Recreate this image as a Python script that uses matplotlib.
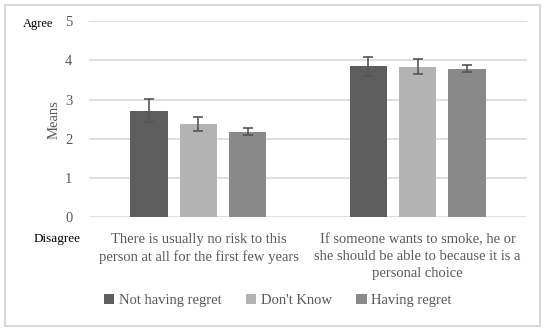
import numpy as np
import matplotlib.pyplot as plt
from matplotlib.patches import Rectangle

# 数据
categories = ["There is usually no risk to this\nperson at all for the first few years",
              "If someone wants to smoke, he or\nshe should be able to because it is a\npersonal choice"]
series = ["Not having regret", "Don't Know", "Having regret"]
not_regret = [2.72, 3.85]
dont_know = [2.38, 3.83]
having_regret = [2.18, 3.79]
err_not_regret = [0.30, 0.24]
err_dont_know = [0.17, 0.19]
err_having_regret = [0.09, 0.10]
yticks = [0, 1, 2, 3, 4, 5]

colors = ["#5e5e5e", "#b3b3b3", "#898989"]
plt.rcParams['font.family'] = ['Liberation Serif', 'DejaVu Serif']

fig = plt.figure(figsize=(5.5, 3.31), dpi=100)
ax = fig.add_axes([0.1618, 0.343, 0.7964, 0.5936])

x = np.arange(len(categories))
width = 0.173
step = 0.224
values = [not_regret, dont_know, having_regret]
errors = [err_not_regret, err_dont_know, err_having_regret]
for i in range(3):
    ax.bar(x + (i - 1) * step, values[i], width, color=colors[i], label=series[i],
           yerr=errors[i], error_kw=dict(ecolor="#555555", elinewidth=1.2, capsize=3.5, capthick=1.2),
           zorder=3)

ax.set_xlim(-0.5, 1.5)
ax.set_ylim(0, 5)
ax.set_yticks(yticks)
ax.set_yticklabels([str(t) for t in yticks], color="#595959", fontsize=10.5)
ax.set_xticks(x)
ax.set_xticklabels(categories, color="#595959", fontsize=10.5, linespacing=1.4)
ax.tick_params(axis="both", length=0)
ax.tick_params(axis="x", pad=11)
ax.tick_params(axis="y", pad=12)
ax.grid(axis="y", color="#d9d9d9", linewidth=1.2, zorder=0)
for s in ax.spines.values():
    s.set_visible(False)
ax.set_ylabel("Means", color="#595959", fontsize=10.5, labelpad=3)

fig.text(0.069, 0.927, "Agree", fontsize=9, ha="center", va="center", color="black")
fig.text(0.104, 0.278, "Disagree", fontsize=9.5, ha="center", va="center", color="black")

ax.legend(loc="center", bbox_to_anchor=(0.505, 0.091), bbox_transform=fig.transFigure,
          ncol=3, frameon=False, fontsize=10.5, handlelength=0.7, handleheight=0.7,
          handletextpad=0.3, columnspacing=1.7, labelcolor="#595959")

fig.patches.append(Rectangle((0.009, 0.015), 0.973, 0.97, transform=fig.transFigure,
                             fill=False, edgecolor="#d9d9d9", linewidth=1.5))

plt.savefig("out.png", dpi=100)
